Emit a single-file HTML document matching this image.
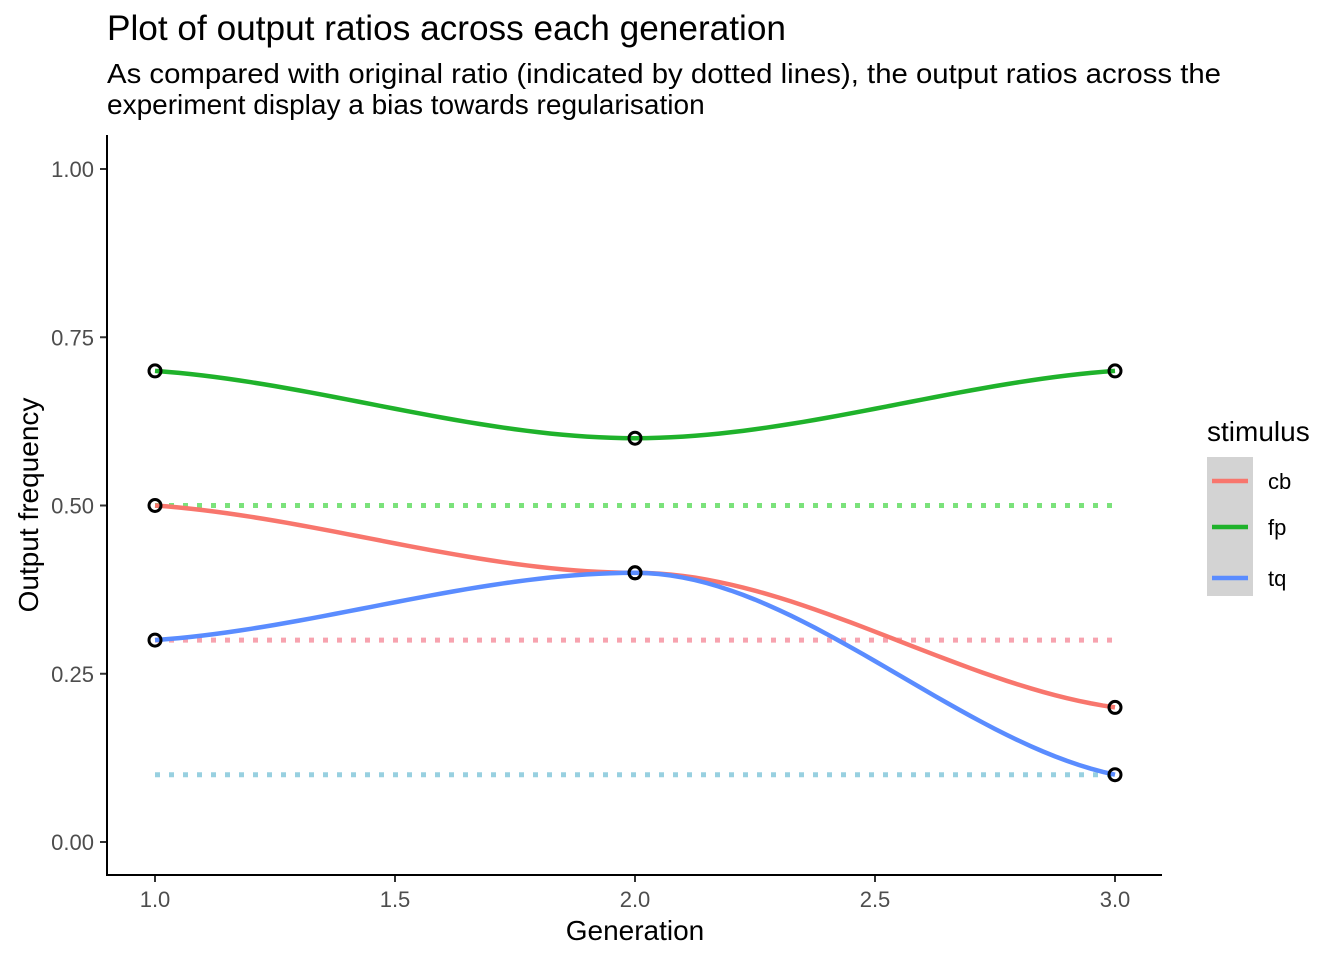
<!DOCTYPE html>
<html><head><meta charset="utf-8"><style>
body{margin:0;background:#fff;}
svg{display:block;font-family:"Liberation Sans",Arial,sans-serif;}
</style></head><body>
<svg id="chart" width="1344" height="960">
<text x="107" y="40" font-size="35" textLength="679" lengthAdjust="spacingAndGlyphs" fill="#000">Plot of output ratios across each generation</text>
<text x="107" y="83" font-size="28" textLength="1114" lengthAdjust="spacingAndGlyphs" fill="#000">As compared with original ratio (indicated by dotted lines), the output ratios across the</text>
<text x="107" y="114" font-size="28" fill="#000">experiment display a bias towards regularisation</text>
<g id="ref-lines"></g>
<g id="series"></g>
<g id="points"></g>
<line x1="107" y1="135" x2="107" y2="876" stroke="#000" stroke-width="2"/>
<line x1="106" y1="875" x2="1162" y2="875" stroke="#000" stroke-width="2"/>
<g id="xticks"></g>
<g id="yticks"></g>
<text x="635" y="940" font-size="28" text-anchor="middle">Generation</text>
<text transform="translate(38,505) rotate(-90)" font-size="28" text-anchor="middle">Output frequency</text>
<g>
<text x="1207" y="441" font-size="28">stimulus</text>
<rect x="1207" y="457" width="46" height="139" fill="#d3d3d3"/>
<g id="legend-entries"></g>
</g>
</svg>
<script>
const generations=[1,2,3];
const cbValues=[0.5,0.4,0.2];
const fpValues=[0.7,0.6,0.7];
const tqValues=[0.3,0.4,0.1];
const seriesNames=["cb","fp","tq"];
const originalRatios=[0.3,0.5,0.1];
const xTicks=[1.0,1.5,2.0,2.5,3.0];
const xTickLabels=["1.0","1.5","2.0","2.5","3.0"];
const yTicks=[0,0.25,0.5,0.75,1];
const yTickLabels=["0.00","0.25","0.50","0.75","1.00"];

const colors=["#F8766D","#1FB22B","#5A8CFF"];
const refColors=["#F7A3AF","#7BE27B","#98D0E0"];
const NS="http://www.w3.org/2000/svg";
const xs=v=>155+(v-1)*480;
const ys=v=>842-v*673;
function mk(tag,attrs,parent){const e=document.createElementNS(NS,tag);for(const k in attrs)e.setAttribute(k,attrs[k]);parent.appendChild(e);return e;}
const allSeries=[cbValues,fpValues,tqValues];

const refG=document.getElementById('ref-lines');
originalRatios.forEach((r,i)=>{
  const l=mk('line',{x1:xs(generations[0]),x2:xs(generations[generations.length-1]),y1:ys(r),y2:ys(r),stroke:refColors[i],'stroke-width':5,'stroke-dasharray':'5 9'},refG);
  
  
});

function pathFor(vals){
  const n=vals.length;const m=[];
  for(let i=0;i<n;i++){
    if(i==0)m.push((vals[1]-vals[0])/(generations[1]-generations[0])*0.5);
    else if(i==n-1)m.push((vals[n-1]-vals[n-2])/(generations[n-1]-generations[n-2])*0.5);
    else m.push(0);
  }
  let d='M'+xs(generations[0])+','+ys(vals[0]);
  for(let i=0;i<n-1;i++){
    const h=generations[i+1]-generations[i];
    for(let s=1;s<=40;s++){
      const t=s/40,t2=t*t,t3=t2*t;
      const v=(2*t3-3*t2+1)*vals[i]+(t3-2*t2+t)*h*m[i]+(-2*t3+3*t2)*vals[i+1]+(t3-t2)*h*m[i+1];
      d+=' L'+xs(generations[i]+t*h).toFixed(2)+','+ys(v).toFixed(2);
    }
  }
  return d;
}
const sG=document.getElementById('series');
allSeries.forEach((vals,i)=>{
  const p=mk('path',{d:pathFor(vals),fill:'none',stroke:colors[i],'stroke-width':4.5},sG);
  
  
});
const pG=document.getElementById('points');
allSeries.forEach((vals,i)=>{
  vals.forEach((v,j)=>{
    const c=mk('circle',{cx:xs(generations[j]),cy:ys(v),r:6,fill:'none',stroke:'#000','stroke-width':3},pG);
    
    
  });
});
const xG=document.getElementById('xticks');
xTicks.forEach((t,i)=>{
  mk('line',{x1:xs(t),x2:xs(t),y1:876,y2:882,stroke:'#333','stroke-width':2},xG);
  const tx=mk('text',{x:xs(t),y:907,'font-size':22,fill:'#4d4d4d','text-anchor':'middle'},xG);
  tx.textContent=xTickLabels[i];
  
  
});
const yG=document.getElementById('yticks');
yTicks.forEach((t,i)=>{
  mk('line',{x1:100,x2:106,y1:ys(t),y2:ys(t),stroke:'#333','stroke-width':2},yG);
  const tx=mk('text',{x:94,y:ys(t)+8,'font-size':22,fill:'#4d4d4d','text-anchor':'end'},yG);
  tx.textContent=yTickLabels[i];
  
  
});
const lG=document.getElementById('legend-entries');
const legY=[481,527,578];
seriesNames.forEach((n,i)=>{
  const g=mk('g',{},lG);
  
  
  mk('line',{x1:1212,x2:1248,y1:legY[i],y2:legY[i],stroke:colors[i],'stroke-width':4.5},g);
  const tx=mk('text',{x:1268,y:legY[i]+8,'font-size':22,fill:'#000'},g);
  tx.textContent=n;
});
</script>
</body></html>
